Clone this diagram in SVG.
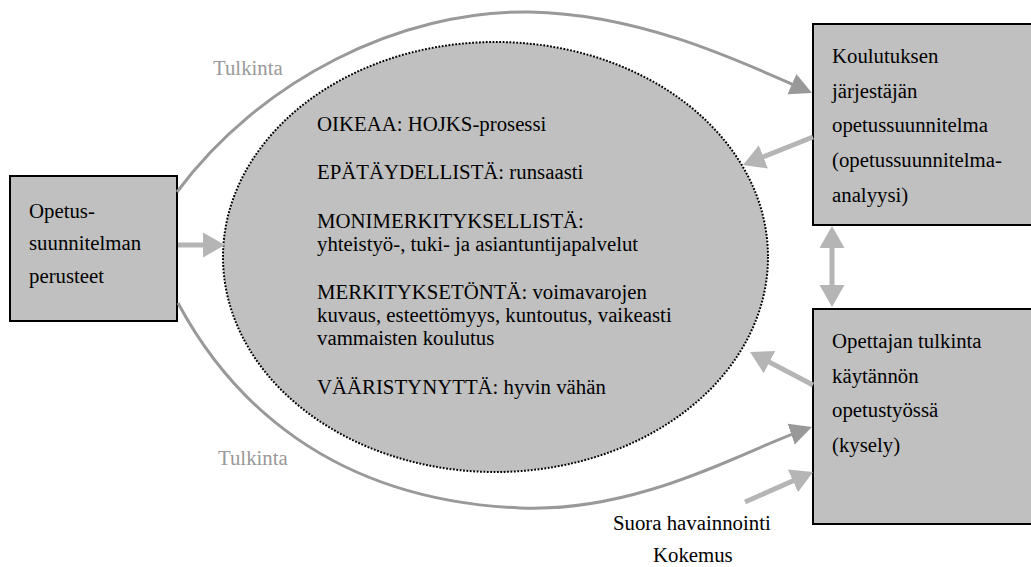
<svg xmlns="http://www.w3.org/2000/svg" width="1031" height="567" viewBox="0 0 1031 567">
<style>
  .box { fill: #c0c0c0; stroke: #000; stroke-width: 2; }
  .t { font-family: 'Liberation Serif', 'Times New Roman', serif; font-size: 20.8px; fill: #000; }
  .lbl { font-family: 'Liberation Serif', 'Times New Roman', serif; font-size: 20.8px; fill: #999; }
  .curve { fill: none; stroke: #999; stroke-width: 3; }
  .light { fill: none; stroke: #b5b5b5; stroke-width: 5; }
</style>
<defs>
  <marker id="hd" markerUnits="userSpaceOnUse" markerWidth="24" markerHeight="24" refX="14" refY="11" orient="auto">
    <path d="M0,0 L22,11 L0,22 z" fill="#999"/>
  </marker>
  <marker id="hl" markerUnits="userSpaceOnUse" markerWidth="25" markerHeight="26" refX="12" refY="12.5" orient="auto-start-reverse">
    <path d="M0,0 L22,12.5 L0,25 z" fill="#b5b5b5"/>
  </marker>
</defs>
<rect width="1031" height="567" fill="#fff"/>

<g id="center">
  <ellipse cx="495.5" cy="257" rx="272.5" ry="215" fill="#c0c0c0" stroke="#000" stroke-width="2" stroke-dasharray="1.8 1.6"/>
  <text class="t" x="317" y="131">OIKEAA: HOJKS-prosessi</text>
  <text class="t" x="317" y="179">EPÄTÄYDELLISTÄ: runsaasti</text>
  <text class="t" x="317" y="227.5">MONIMERKITYKSELLISTÄ:</text>
  <text class="t" x="317" y="250.5">yhteistyö-, tuki- ja asiantuntijapalvelut</text>
  <text class="t" x="317" y="298.5">MERKITYKSETÖNTÄ: voimavarojen</text>
  <text class="t" x="317" y="321.5">kuvaus, esteettömyys, kuntoutus, vaikeasti</text>
  <text class="t" x="317" y="345">vammaisten koulutus</text>
  <text class="t" x="317" y="394">VÄÄRISTYNYTTÄ: hyvin vähän</text>
</g>

<g id="perusteet">
  <rect class="box" x="10" y="176" width="167" height="145"/>
  <text class="t" x="29" y="218">Opetus-</text>
  <text class="t" x="29" y="250">suunnitelman</text>
  <text class="t" x="29" y="283">perusteet</text>
</g>

<g id="jarjestaja">
  <rect class="box" x="813" y="24" width="230" height="201"/>
  <text class="t" x="832" y="63">Koulutuksen</text>
  <text class="t" x="832" y="97.5">järjestäjän</text>
  <text class="t" x="832" y="132">opetussuunnitelma</text>
  <text class="t" x="832" y="167">(opetussuunnitelma-</text>
  <text class="t" x="832" y="201.5">analyysi)</text>
</g>

<g id="opettaja">
  <rect class="box" x="813" y="309" width="230" height="215"/>
  <text class="t" x="832" y="347.5">Opettajan tulkinta</text>
  <text class="t" x="832" y="382.5">käytännön</text>
  <text class="t" x="832" y="417">opetustyössä</text>
  <text class="t" x="832" y="452">(kysely)</text>
</g>

<g id="connectors">
  <path class="curve" d="M177,192 C260,80 400,10 530,12 C640,14 740,61 804.7,89.8" marker-end="url(#hd)"/>
  <path class="curve" d="M178,303 C230,400 330,500 520,508 C640,513 745,450 804.4,429.6" marker-end="url(#hd)"/>
  <path class="light" d="M178,245 L215,245" marker-end="url(#hl)"/>
  <path class="light" d="M813,137 L752.3,161.3" marker-end="url(#hl)"/>
  <path class="light" d="M832,236 L832,297" marker-start="url(#hl)" marker-end="url(#hl)"/>
  <path class="light" d="M813,385 L758.9,356.6" marker-end="url(#hl)"/>
  <path class="light" d="M745,502 L803.9,476" marker-end="url(#hl)"/>
</g>

<g id="labels">
  <text class="lbl" x="213" y="75">Tulkinta</text>
  <text class="lbl" x="218" y="465">Tulkinta</text>
  <text class="t" x="613" y="530">Suora havainnointi</text>
  <text class="t" x="653" y="562">Kokemus</text>
</g>
</svg>
